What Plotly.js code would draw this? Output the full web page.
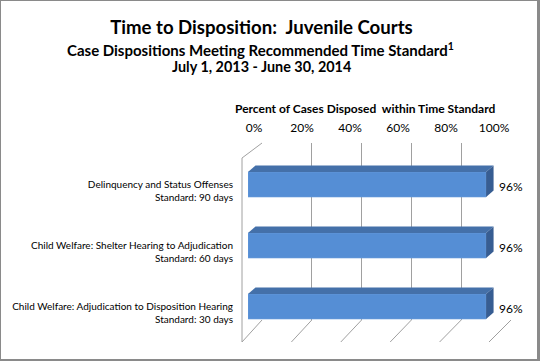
<!DOCTYPE html>
<html>
<head>
<meta charset="utf-8">
<script src="https://cdn.plot.ly/plotly-3.0.1.min.js"></script>
<style>
html,body{margin:0;padding:0;background:#fff;}
#wrap{position:relative;width:540px;height:361px;}
#chart{position:absolute;left:0;top:0;width:540px;height:361px;}
#frame{position:absolute;left:0;top:0;width:540px;height:361px;box-sizing:border-box;
  border-left:1px solid #8a8a8a;border-top:1px solid #8a8a8a;border-right:3px solid #8a8a8a;border-bottom:2px solid #8a8a8a;pointer-events:none;}
</style>
</head>
<body>
<div id="wrap"><div id="chart"></div><div id="frame"></div></div>
<script>
// ---- data ----
const categories = ['Delinquency and Status Offenses', 'Child Welfare: Shelter Hearing to Adjudication', 'Child Welfare: Adjudication to Disposition Hearing'];
const standards = ['Standard: 90 days', 'Standard: 60 days', 'Standard: 30 days'];
const values = [0.96, 0.96, 0.96];
const valueLabels = ['96%', '96%', '96%'];
const tickVals = [0, 0.2, 0.4, 0.6, 0.8, 1];
const tickText = ['0%', '20%', '40%', '60%', '80%', '100%'];

// ---- geometry (pixels) ----
const W = 540, H = 361;
const px = v => v / W;
const py = v => 1 - v / H;
const front = {x0: 248, x1: 496, yTop: 154, yBot: 337};
const back = {x0: 262, x1: 511, yTop: 143, yBot: 320};
const labelsAxis = {x0: 254, x1: 494, y: 134};
const floorY = 342, wallFrontTop = 158;
const unitPx = front.x1 - front.x0;
const catPx = (front.yBot - front.yTop) / categories.length;
const barW = 25 / catPx;
const dX = 7.5 / unitPx, dY = 6.5 / catPx;

const FONT = 'Lato, "Liberation Sans", Arial, sans-serif';
const idx = categories.map((c, i) => i);

const traces = [];
// helper traces so the back-wall axis and the label axis exist (drawn first, below the bars)
traces.push({type: 'scatter', mode: 'none', x: tickVals, y: tickVals.map(() => 0.5), xaxis: 'x', yaxis: 'y', hoverinfo: 'skip', showlegend: false});
traces.push({type: 'scatter', mode: 'none', x: tickVals, y: tickVals.map(() => 0.5), xaxis: 'x2', yaxis: 'y', hoverinfo: 'skip', showlegend: false});
// front faces
traces.push({
  type: 'bar', orientation: 'h', x: values, y: idx, width: barW,
  marker: {color: '#558ED5', line: {color: '#6C9EDC', width: 0.6}},
  hoverinfo: 'skip', showlegend: false, xaxis: 'x3', yaxis: 'y3'
});
// top and side faces
values.forEach((v, i) => {
  const t = i - barW / 2, b = i + barW / 2;
  traces.push({
    type: 'scatter', mode: 'lines', fill: 'toself', fillcolor: '#4470A9',
    x: [0, v, v + dX, dX, 0], y: [t, t, t - dY, t - dY, t],
    line: {width: 0}, hoverinfo: 'skip', showlegend: false, xaxis: 'x3', yaxis: 'y3'
  });
  traces.push({
    type: 'scatter', mode: 'lines', fill: 'toself', fillcolor: '#375D92',
    x: [v, v + dX, v + dX, v, v], y: [t, t - dY, b - dY, b, t],
    line: {width: 0}, hoverinfo: 'skip', showlegend: false, xaxis: 'x3', yaxis: 'y3'
  });
});

// frame shapes (floor diagonals and left wall)
const shapes = [];
const bx = t => px(back.x0 + t * (back.x1 - back.x0));
const shift = t => 20 + 2 * t;
const lineStyle = {color: '#a0a0a0', width: 1};
tickVals.forEach(t => {
  shapes.push({type: 'line', xref: 'paper', yref: 'paper',
    x0: bx(t), y0: py(back.yBot), x1: bx(t) - px(shift(t)), y1: py(floorY), line: lineStyle, layer: 'below'});
});
shapes.push({type: 'line', xref: 'paper', yref: 'paper',
  x0: bx(0) - px(shift(0)), y0: py(wallFrontTop), x1: bx(0) - px(shift(0)), y1: py(floorY), line: lineStyle, layer: 'below'});
shapes.push({type: 'line', xref: 'paper', yref: 'paper',
  x0: bx(0), y0: py(back.yTop), x1: bx(0) - px(shift(0)), y1: py(wallFrontTop), line: lineStyle, layer: 'below'});

const annotations = [];
annotations.push({xref: 'paper', yref: 'paper', x: px(260), y: py(49), xanchor: 'center', yanchor: 'middle',
  text: '<b>Case Dispositions Meeting Recommended Time Standard<sup>1</sup></b>', showarrow: false,
  font: {family: FONT, size: 15, color: '#000'}});
annotations.push({xref: 'paper', yref: 'paper', x: px(261), y: py(66.5), xanchor: 'center', yanchor: 'middle',
  text: '<b>July 1, 2013 - June 30, 2014</b>', showarrow: false,
  font: {family: FONT, size: 14.4, color: '#000'}});
annotations.push({xref: 'paper', yref: 'paper', x: px(365), y: py(108), xanchor: 'center', yanchor: 'middle',
  text: '<b>Percent of Cases Disposed  within Time Standard</b>', showarrow: false,
  font: {family: FONT, size: 12, color: '#000'}});
values.forEach((v, i) => {
  annotations.push({xref: 'x3', yref: 'y3', x: v + dX, y: i, xanchor: 'left', yanchor: 'middle',
    xshift: 3, yshift: -2, text: valueLabels[i], showarrow: false,
    font: {family: FONT, size: 12, color: '#000'}});
});

const layout = {
  width: W, height: H,
  margin: {l: 0, r: 0, t: 0, b: 0, pad: 0},
  paper_bgcolor: '#fff', plot_bgcolor: 'rgba(0,0,0,0)',
  showlegend: false,
  title: {text: '<b>Time to Disposition:  Juvenile Courts</b>', x: px(261.5), y: py(27),
    xanchor: 'center', yanchor: 'middle', xref: 'container', yref: 'container',
    font: {family: FONT, size: 18.6, color: '#000'}},
  font: {family: FONT, color: '#000'},
  // back wall gridlines
  xaxis: {domain: [px(back.x0), px(back.x1)], range: [0, 1], anchor: 'y', tickmode: 'array', tickvals: tickVals,
    showticklabels: false, ticks: '', showgrid: true, gridcolor: '#a0a0a0', gridwidth: 1, zeroline: false, showline: false, fixedrange: true},
  yaxis: {domain: [py(back.yBot), py(back.yTop)], range: [0, 1], anchor: 'x', showticklabels: false, ticks: '',
    showgrid: false, zeroline: false, showline: false, fixedrange: true},
  // percent tick labels on top
  xaxis2: {domain: [px(labelsAxis.x0), px(labelsAxis.x1)], range: [0, 1], side: 'top',
    anchor: 'free', position: py(labelsAxis.y), tickmode: 'array', tickvals: tickVals, ticktext: tickText,
    ticks: '', showgrid: false, zeroline: false, showline: false,
    tickfont: {family: FONT, size: 12, color: '#000'}, fixedrange: true},
  // bars
  xaxis3: {domain: [px(front.x0), px(front.x1)], range: [0, 1], anchor: 'y3', visible: false, showgrid: false, zeroline: false, fixedrange: true},
  yaxis3: {domain: [py(front.yBot), py(front.yTop)], range: [categories.length - 0.5, -0.5], anchor: 'x3',
    tickmode: 'array', tickvals: idx, ticktext: categories.map((c, i) => c + '<br>' + standards[i]),
    ticks: '', showgrid: false, zeroline: false, showline: false, ticklabelstandoff: 14, ticklabelshift: -6,
    tickfont: {family: FONT, size: 10, color: '#000'}, fixedrange: true},
  shapes: shapes,
  annotations: annotations
};

Plotly.newPlot('chart', traces, layout, {staticPlot: true, displayModeBar: false});
</script>
</body>
</html>
